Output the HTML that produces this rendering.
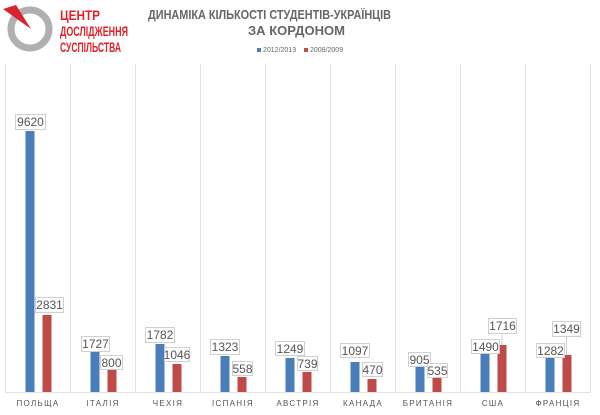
<!DOCTYPE html>
<html><head><meta charset="utf-8"><style>
body{margin:0;background:#fff;width:600px;height:410px;overflow:hidden;font-family:"Liberation Sans",sans-serif}
</style></head><body>
<svg width="600" height="410" xmlns="http://www.w3.org/2000/svg" font-family="Liberation Sans, sans-serif">
<rect width="600" height="410" fill="#fff"/>
<circle cx="30" cy="29" r="19" fill="none" stroke="#b0b0b2" stroke-width="7"/>
<polygon points="3,9 16,5 31,29" fill="#d9232d"/>
<g fill="#e0222b" font-weight="bold" font-size="14">
<text x="60" y="20" textLength="40" lengthAdjust="spacingAndGlyphs">ЦЕНТР</text>
<text x="60" y="36" textLength="68" lengthAdjust="spacingAndGlyphs">ДОСЛІДЖЕННЯ</text>
<text x="60" y="52" textLength="61" lengthAdjust="spacingAndGlyphs">СУСПІЛЬСТВА</text>
</g>
<g fill="#666" font-weight="bold" font-size="13">
<text x="148" y="19" textLength="243" lengthAdjust="spacingAndGlyphs">ДИНАМІКА КІЛЬКОСТІ СТУДЕНТІВ-УКРАЇНЦІВ</text>
<text x="248" y="35" textLength="97" lengthAdjust="spacingAndGlyphs">ЗА КОРДОНОМ</text>
</g>
<rect x="257" y="48" width="4" height="4" fill="#4a7ebb"/>
<text x="263" y="52" font-size="7" fill="#666">2012/2013</text>
<rect x="304" y="48" width="4" height="4" fill="#be4b48"/>
<text x="310" y="52" font-size="7" fill="#666">2008/2009</text>
<g stroke="#e2e2e2" stroke-width="1">
<line x1="5.5" y1="64" x2="5.5" y2="392"/><line x1="70.5" y1="64" x2="70.5" y2="392"/>
<line x1="135.5" y1="64" x2="135.5" y2="392"/><line x1="200.5" y1="64" x2="200.5" y2="392"/>
<line x1="265.5" y1="64" x2="265.5" y2="392"/><line x1="330.5" y1="64" x2="330.5" y2="392"/>
<line x1="395.5" y1="64" x2="395.5" y2="392"/><line x1="460.5" y1="64" x2="460.5" y2="392"/>
<line x1="525.5" y1="64" x2="525.5" y2="392"/><line x1="590.5" y1="64" x2="590.5" y2="392"/>
<line x1="5" y1="392.5" x2="591" y2="392.5"/>
</g>
<g fill="#4a7ebb">
<rect x="25.5" y="131" width="9" height="261"/>
<rect x="90.5" y="345" width="9" height="47"/>
<rect x="155.5" y="344" width="9" height="48"/>
<rect x="220.5" y="356" width="9" height="36"/>
<rect x="285.5" y="358" width="9" height="34"/>
<rect x="350.5" y="362" width="9" height="30"/>
<rect x="415.5" y="367" width="9" height="25"/>
<rect x="480.5" y="352" width="9" height="40"/>
<rect x="545.5" y="357" width="9" height="35"/>
</g>
<g fill="#be4b48">
<rect x="42.5" y="315" width="9" height="77"/>
<rect x="107.5" y="370" width="9" height="22"/>
<rect x="172.5" y="364" width="9" height="28"/>
<rect x="237.5" y="377" width="9" height="15"/>
<rect x="302.5" y="372" width="9" height="20"/>
<rect x="367.5" y="379" width="9" height="13"/>
<rect x="432.5" y="377.5" width="9" height="14.5"/>
<rect x="497.5" y="345" width="9" height="47"/>
<rect x="562.5" y="355" width="9" height="37"/>
</g>
<g font-size="12" fill="#555" text-anchor="middle">
<g fill="#fff" stroke="#d0d0d0" stroke-width="1">
<rect x="15.5" y="114.5" width="30" height="15"/>
<rect x="35.5" y="297.5" width="28" height="15"/>
<rect x="81.5" y="336.5" width="28" height="15"/>
<rect x="100.5" y="355.5" width="22" height="14"/>
<rect x="145.5" y="327.5" width="29" height="15"/>
<rect x="164.5" y="347.5" width="25" height="14"/>
<rect x="210.5" y="339.5" width="29" height="15"/>
<rect x="232.5" y="361.5" width="20" height="14"/>
<rect x="275.5" y="341.5" width="29" height="14"/>
<rect x="297.5" y="356.5" width="20" height="14"/>
<rect x="340.5" y="343.5" width="29" height="14"/>
<rect x="362.5" y="362.5" width="20" height="14"/>
<rect x="408.5" y="352.5" width="22" height="14"/>
<rect x="427.5" y="363.5" width="20" height="14"/>
<rect x="471.5" y="339.5" width="28" height="14"/>
<rect x="488.5" y="318.5" width="28" height="15"/>
<rect x="536.5" y="343.5" width="28" height="14"/>
<rect x="552.5" y="321.5" width="28" height="15"/>
</g>
<g stroke="#d0d0d0" stroke-width="1">
<line x1="502" y1="333.5" x2="502" y2="345"/>
<line x1="566.5" y1="336.5" x2="566.5" y2="355"/>
</g>
<text x="30.5" y="126">9620</text>
<text x="49.5" y="309">2831</text>
<text x="95.5" y="348">1727</text>
<text x="111.5" y="367">800</text>
<text x="160" y="339">1782</text>
<text x="177" y="359">1046</text>
<text x="225" y="351">1323</text>
<text x="242.5" y="373">558</text>
<text x="290" y="353">1249</text>
<text x="307.5" y="368">739</text>
<text x="355" y="355">1097</text>
<text x="372.5" y="374">470</text>
<text x="419.5" y="364">905</text>
<text x="437.5" y="375">535</text>
<text x="485.5" y="351">1490</text>
<text x="502.5" y="330">1716</text>
<text x="550.5" y="355">1282</text>
<text x="566.5" y="333">1349</text>
</g>
<g font-size="8" fill="#555" text-anchor="middle" letter-spacing="1.3">
<text x="38" y="406">ПОЛЬЩА</text>
<text x="103" y="406">ІТАЛІЯ</text>
<text x="168" y="406">ЧЕХІЯ</text>
<text x="233" y="406">ІСПАНІЯ</text>
<text x="298" y="406">АВСТРІЯ</text>
<text x="363" y="406">КАНАДА</text>
<text x="428" y="406">БРИТАНІЯ</text>
<text x="493" y="406">США</text>
<text x="558" y="406">ФРАНЦІЯ</text>
</g>
</svg>
</body></html>
